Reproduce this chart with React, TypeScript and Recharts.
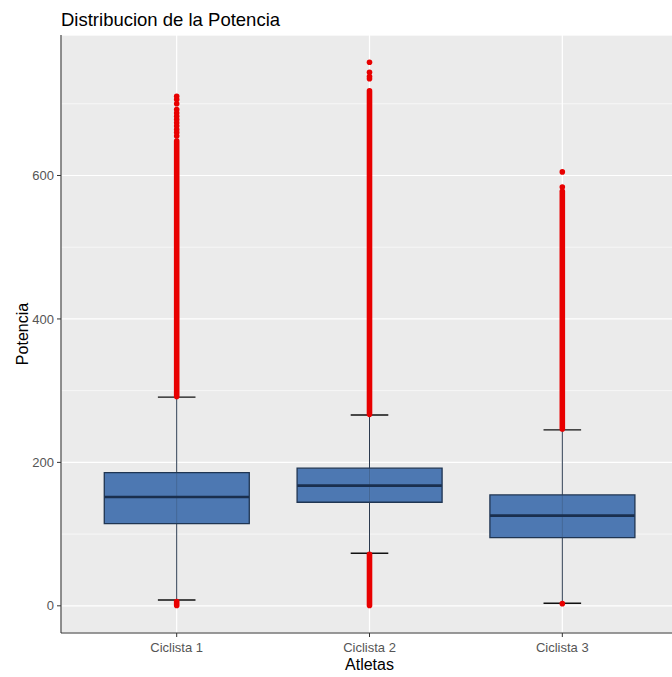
import React from 'react';
import {
  ComposedChart, Bar, Scatter, XAxis, YAxis, CartesianGrid, ReferenceLine,
} from 'recharts';

// ---- data ----
const categories = ['Ciclista 1', 'Ciclista 2', 'Ciclista 3'];
const positions = [1, 2, 3];
const q1 = [114.6, 144.4, 95.0];
const medians = [151.8, 167.6, 125.7];
const q3 = [185.7, 191.9, 154.6];
const whiskerLow = [8.1, 73.3, 3.5];
const whiskerHigh = [291, 266, 245.3];
// dense outlier runs (min, max) above the upper whisker
const upperRunLow = [292, 267, 246.5];
const upperRunHigh = [648, 718, 578];
// dense outlier runs below the lower whisker
const lowerRunLow = [0.5, 0.5, null];
const lowerRunHigh = [6, 72, null];
// isolated outliers
const outliers1 = [710.6, 706, 700, 692, 687, 682.7, 678, 673.5, 669, 664, 660, 655];
const outliers2 = [758, 744, 738, 735];
const outliers3 = [605, 584, 3];

const yTicks = [0, 200, 400, 600];
const yMinorTicks = [100, 300, 500, 700];
const yDomain = [-37.9, 795.9];

// ---- style ----
const FONT = '"Liberation Sans", Arial, sans-serif';
const RED = '#E80000';
const BOX_FILL = '#3C6BAC';
const BOX_STROKE = '#1F3552';
const MEDIAN = '#1A2F4E';
const WHISKER = '#2B3A4F';
const HALF_BOX = 0.375;
const HALF_CAP = 0.0975;

const boxRows = positions.map((p, i) => ({ x: p, box: [q1[i], q3[i]] }));
const outlierRows = [
  ...outliers1.map((v) => ({ x: positions[0], y: v })),
  ...outliers2.map((v) => ({ x: positions[1], y: v })),
  ...outliers3.map((v) => ({ x: positions[2], y: v })),
];

const Dot = (props: any) => (
  <circle cx={props.cx} cy={props.cy} r={2.8} fill={RED} />
);

export default function App() {
  return (
    <div style={{ position: 'absolute', left: 0, top: 0, width: 672, height: 677, background: '#fff', fontFamily: FONT, overflow: 'hidden' }}>
      <div style={{ position: 'absolute', left: 61, top: 10, fontSize: 18.5, lineHeight: '19px', color: '#000', fontFamily: FONT, whiteSpace: 'nowrap' }}>
        Distribucion de la Potencia
      </div>
      <ComposedChart
        width={672}
        height={677}
        data={boxRows}
        margin={{ top: 35, right: -6, bottom: 0, left: 6 }}
        style={{ fontFamily: FONT }}
      >
        <CartesianGrid fill="#EBEBEB" stroke="#FFFFFF" strokeWidth={1.2} />
        <CartesianGrid yAxisId="minor" vertical={false} stroke="#FFFFFF" strokeWidth={0.6} fill="none" />
        <XAxis
          dataKey="x"
          type="number"
          domain={[0.4, 3.6]}
          ticks={positions}
          tickFormatter={(v: number) => categories[positions.indexOf(v)]}
          height={44}
          tickSize={4}
          tickMargin={6}
          axisLine={{ stroke: '#333333', strokeWidth: 1.1 }}
          tickLine={{ stroke: '#333333' }}
          tick={{ fill: '#555555', fontSize: 13 }}
          allowDataOverflow
          label={{ value: 'Atletas', position: 'insideBottom', offset: 7, fontSize: 16, fill: '#000000' }}
        />
        <YAxis
          type="number"
          domain={yDomain}
          ticks={yTicks}
          width={55}
          tickSize={4}
          tickMargin={3}
          allowDataOverflow
          axisLine={{ stroke: '#333333', strokeWidth: 1.1 }}
          tickLine={{ stroke: '#333333' }}
          tick={{ fill: '#555555', fontSize: 13 }}
          label={{ value: 'Potencia', angle: -90, position: 'insideLeft', offset: 16, fontSize: 16, fill: '#000000', style: { textAnchor: 'middle' } }}
        />
        <YAxis yAxisId="minor" type="number" domain={yDomain} ticks={yMinorTicks} hide allowDataOverflow />

        {positions.map((p, i) => (
          <ReferenceLine key={'capH' + i} segment={[{ x: p - HALF_CAP, y: whiskerHigh[i] }, { x: p + HALF_CAP, y: whiskerHigh[i] }]} stroke="#111111" strokeWidth={1.4} />
        ))}
        {positions.map((p, i) => (
          <ReferenceLine key={'capL' + i} segment={[{ x: p - HALF_CAP, y: whiskerLow[i] }, { x: p + HALF_CAP, y: whiskerLow[i] }]} stroke="#111111" strokeWidth={1.4} />
        ))}
        {positions.map((p, i) => (
          <ReferenceLine key={'wu' + i} segment={[{ x: p, y: q3[i] }, { x: p, y: whiskerHigh[i] }]} stroke={WHISKER} strokeWidth={1} />
        ))}
        {positions.map((p, i) => (
          <ReferenceLine key={'wl' + i} segment={[{ x: p, y: whiskerLow[i] }, { x: p, y: q1[i] }]} stroke={WHISKER} strokeWidth={1} />
        ))}
        {positions.map((p, i) => (
          <ReferenceLine key={'wi' + i} segment={[{ x: p, y: q1[i] }, { x: p, y: q3[i] }]} stroke={WHISKER} strokeWidth={1} strokeOpacity={0.3} />
        ))}

        <Bar dataKey="box" barSize={145} fill={BOX_FILL} fillOpacity={0.9} stroke={BOX_STROKE} strokeWidth={1.3} isAnimationActive={false} />

        {positions.map((p, i) => (
          <ReferenceLine key={'med' + i} segment={[{ x: p - HALF_BOX, y: medians[i] }, { x: p + HALF_BOX, y: medians[i] }]} stroke={MEDIAN} strokeWidth={2.6} />
        ))}

        {positions.map((p, i) => (
          <ReferenceLine key={'ru' + i} segment={[{ x: p, y: upperRunLow[i] }, { x: p, y: upperRunHigh[i] }]} stroke={RED} strokeWidth={5.6} strokeLinecap="round" />
        ))}
        {positions.map((p, i) =>
          lowerRunLow[i] == null ? null : (
            <ReferenceLine key={'rl' + i} segment={[{ x: p, y: lowerRunLow[i] as number }, { x: p, y: lowerRunHigh[i] as number }]} stroke={RED} strokeWidth={5.6} strokeLinecap="round" />
          )
        )}

        <Scatter data={outlierRows} dataKey="y" fill={RED} shape={Dot} isAnimationActive={false} />
      </ComposedChart>
    </div>
  );
}
